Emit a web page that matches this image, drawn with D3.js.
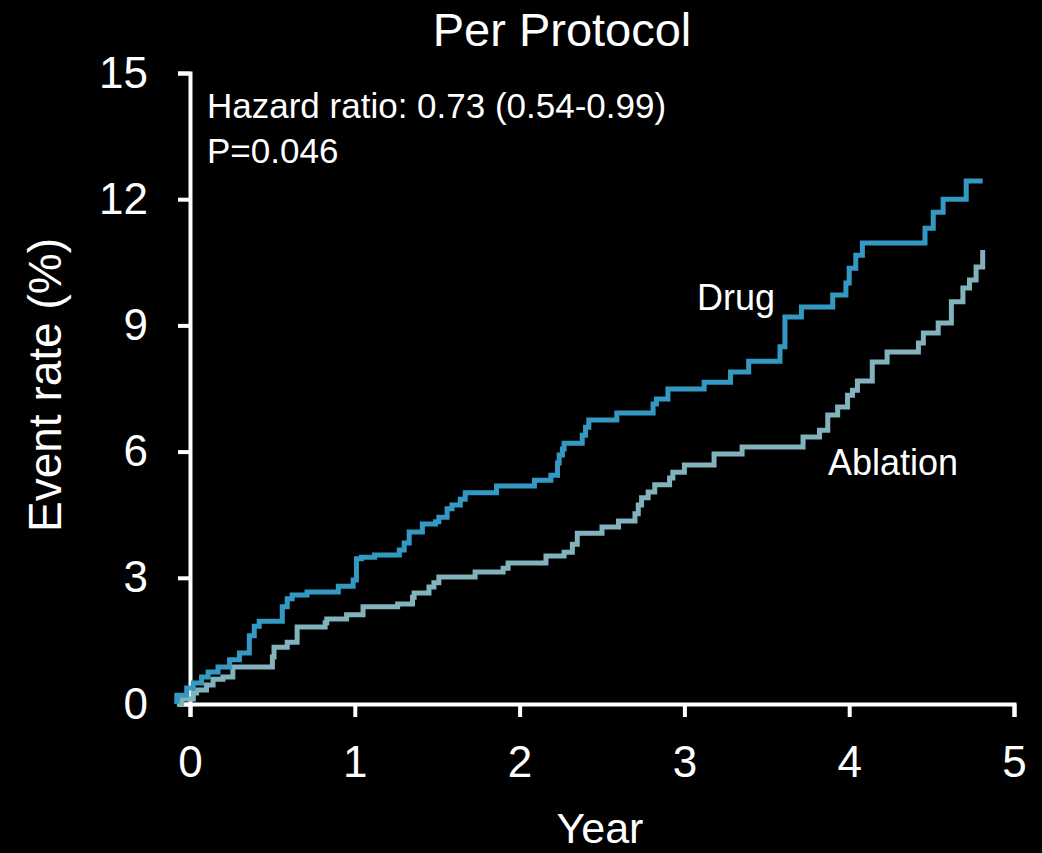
<!DOCTYPE html>
<html>
<head>
<meta charset="utf-8">
<script src="https://cdn.jsdelivr.net/npm/d3@7"></script>
<style>
  html, body { margin: 0; padding: 0; background: #000; }
  svg { display: block; }
  text { font-family: "Liberation Sans", Arial, sans-serif; fill: #fff; }
</style>
</head>
<body>
<svg id="chart" width="1042" height="853"></svg>
<script>
// Cumulative event rate (%) by year, Kaplan-Meier style step data
const drugYears = [-0.08, -0.08, -0.02, 0.02, 0.07, 0.11, 0.17, 0.24, 0.30, 0.36, 0.39, 0.42, 0.56, 0.59, 0.62, 0.71, 0.90, 0.99, 1.01, 1.04, 1.12, 1.27, 1.30, 1.33, 1.41, 1.49, 1.51, 1.56, 1.59, 1.64, 1.67, 1.86, 2.09, 2.19, 2.23, 2.24, 2.26, 2.27, 2.38, 2.40, 2.42, 2.59, 2.81, 2.83, 2.90, 3.12, 3.28, 3.39, 3.58, 3.61, 3.71, 3.90, 3.98, 4.00, 4.04, 4.08, 4.46, 4.51, 4.57, 4.71, 4.81];
const drugRates = [0, 0.21, 0.38, 0.50, 0.64, 0.76, 0.88, 1.05, 1.21, 1.62, 1.85, 1.97, 2.31, 2.50, 2.59, 2.66, 2.80, 2.95, 3.45, 3.49, 3.54, 3.66, 3.83, 4.09, 4.28, 4.33, 4.44, 4.64, 4.73, 4.87, 5.02, 5.18, 5.32, 5.44, 5.73, 5.92, 6.06, 6.20, 6.39, 6.58, 6.75, 6.92, 7.13, 7.25, 7.49, 7.65, 7.89, 8.15, 8.49, 9.20, 9.44, 9.72, 10.01, 10.36, 10.67, 10.96, 11.31, 11.69, 12.00, 12.43, 12.43];

const ablationYears = [-0.08, -0.05, 0.02, 0.04, 0.10, 0.14, 0.20, 0.26, 0.50, 0.51, 0.59, 0.65, 0.82, 0.83, 0.95, 1.05, 1.26, 1.35, 1.36, 1.45, 1.48, 1.51, 1.73, 1.90, 1.93, 2.16, 2.27, 2.32, 2.35, 2.50, 2.60, 2.70, 2.72, 2.74, 2.78, 2.82, 2.91, 2.93, 3.00, 3.18, 3.35, 3.72, 3.82, 3.87, 3.93, 3.99, 4.02, 4.05, 4.14, 4.23, 4.42, 4.45, 4.54, 4.62, 4.69, 4.73, 4.77, 4.81, 4.81];
const ablationRates = [0, 0.12, 0.26, 0.33, 0.45, 0.59, 0.64, 0.88, 1.12, 1.35, 1.47, 1.83, 1.93, 2.02, 2.12, 2.31, 2.38, 2.54, 2.64, 2.78, 2.88, 3.02, 3.14, 3.23, 3.35, 3.52, 3.61, 3.80, 4.06, 4.21, 4.35, 4.52, 4.73, 4.90, 5.04, 5.21, 5.37, 5.51, 5.68, 5.94, 6.11, 6.35, 6.51, 6.87, 7.06, 7.34, 7.46, 7.68, 8.13, 8.37, 8.58, 8.82, 9.06, 9.56, 9.89, 10.08, 10.39, 10.79, 10.79];

const xTicks = [0, 1, 2, 3, 4, 5];
const yTicks = [0, 3, 6, 9, 12, 15];

const titleText = "Per Protocol";
const xTitle = "Year";
const yTitle = "Event rate (%)";
const statLines = ["Hazard ratio: 0.73 (0.54-0.99)", "P=0.046"];
const seriesNames = ["Drug", "Ablation"];

const svg = d3.select("#chart");
svg.append("rect").attr("width", 1042).attr("height", 853).attr("fill", "#000");

const x = d3.scaleLinear().domain([0, 5]).range([190, 1014]);
const y = d3.scaleLinear().domain([0, 15]).range([704, 73]);

// Axes
const xAxis = d3.axisBottom(x).tickValues(xTicks).tickFormat(d3.format("d"))
  .tickSize(13).tickSizeOuter(13).tickPadding(29);
const yAxis = d3.axisLeft(y).tickValues(yTicks).tickFormat(d3.format("d"))
  .tickSize(12).tickSizeOuter(12).tickPadding(30);

const gx = svg.append("g").attr("transform", "translate(0,704)").call(xAxis);
const gy = svg.append("g").attr("transform", "translate(190,0)").call(yAxis);

[gx, gy].forEach(g => {
  g.selectAll("path.domain").attr("stroke", "#fff").attr("stroke-width", 4).attr("fill", "none");
  g.selectAll(".tick line").attr("stroke", "#fff").attr("stroke-width", 4);
  g.selectAll(".tick text").attr("fill", "#fff")
    .style("font-family", "'Liberation Sans', Arial, sans-serif")
    .style("font-size", "44px");
});

// Step curves
const line = d3.line()
  .x(d => x(d[0]))
  .y(d => y(d[1]))
  .curve(d3.curveStepAfter);

const ablation = ablationYears.map((t, i) => [t, ablationRates[i]]);
const drug = drugYears.map((t, i) => [t, drugRates[i]]);

svg.append("path").datum(ablation)
  .attr("d", line)
  .attr("fill", "none")
  .attr("stroke", "#82b2bc")
  .attr("stroke-width", 5)
  .attr("stroke-linejoin", "miter");

svg.append("path").datum(drug)
  .attr("d", line)
  .attr("fill", "none")
  .attr("stroke", "#3399c2")
  .attr("stroke-width", 5)
  .attr("stroke-linejoin", "miter");

// Titles
svg.append("text").attr("x", 562).attr("y", 46)
  .attr("text-anchor", "middle").style("font-size", "47px").text(titleText);

svg.append("text").attr("x", 600).attr("y", 843)
  .attr("text-anchor", "middle").style("font-size", "43px").text(xTitle);

svg.append("text")
  .attr("transform", "translate(61,385) rotate(-90)")
  .attr("text-anchor", "middle").style("font-size", "46px").text(yTitle);

// Statistics
svg.append("text").attr("x", 207).attr("y", 118).style("font-size", "35px").text(statLines[0]);
svg.append("text").attr("x", 207).attr("y", 163).style("font-size", "35px").text(statLines[1]);

// Series labels
svg.append("text").attr("x", 697).attr("y", 310).style("font-size", "36px").text(seriesNames[0]);
svg.append("text").attr("x", 828).attr("y", 475).style("font-size", "36px").text(seriesNames[1]);
</script>
</body>
</html>
